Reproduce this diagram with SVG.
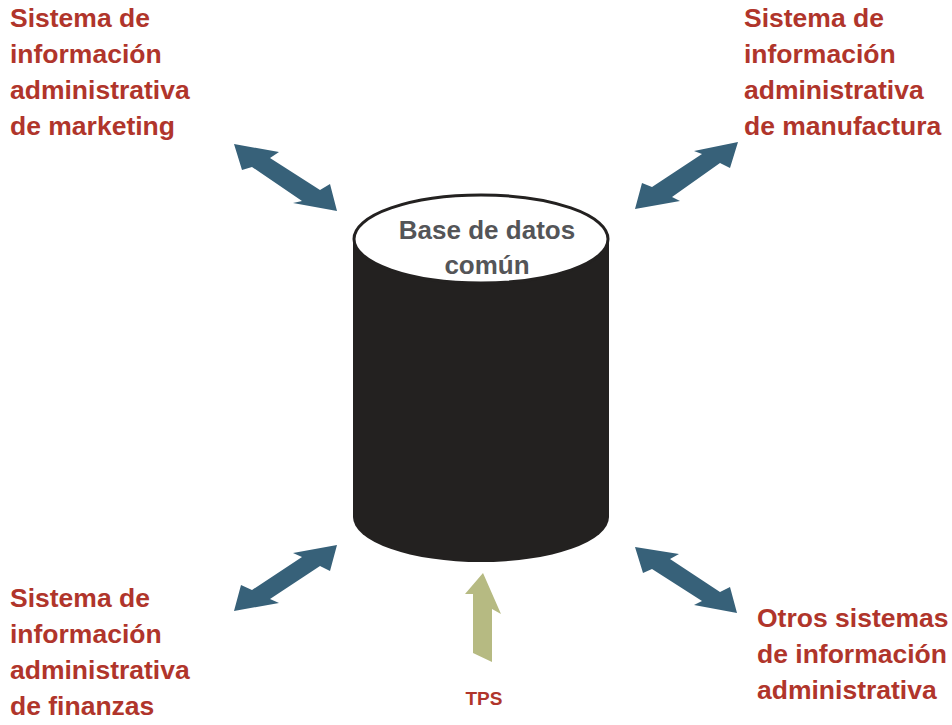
<svg xmlns="http://www.w3.org/2000/svg" width="952" height="725" viewBox="0 0 952 725">
<style>
.lbl{font-family:"Liberation Sans",Arial,sans-serif;font-weight:bold;font-size:26.5px;fill:#b0352b}
.db{font-family:"Liberation Sans",Arial,sans-serif;font-weight:bold;font-size:26px;fill:#545558;text-anchor:middle}
.arr{fill:#376179}
</style>
<rect width="952" height="725" fill="#ffffff"/>
<g id="database">
<path d="M353,239 L353,517 A128,45 0 0 0 609,517 L609,239 Z" fill="#232120"/>
<ellipse cx="481" cy="239" rx="127" ry="44" fill="#ffffff" stroke="#232120" stroke-width="3"/>
<text class="db" x="487" y="239">Base de datos</text>
<text class="db" x="487" y="274">común</text>
</g>
<g id="marketing">
<text class="lbl" x="10" y="27">Sistema de</text>
<text class="lbl" x="10" y="63">información</text>
<text class="lbl" x="10" y="99">administrativa</text>
<text class="lbl" x="10" y="135">de marketing</text>
</g>
<g id="manufactura">
<text class="lbl" x="744" y="27">Sistema de</text>
<text class="lbl" x="744" y="63">información</text>
<text class="lbl" x="744" y="99">administrativa</text>
<text class="lbl" x="744" y="135">de manufactura</text>
</g>
<g id="finanzas">
<text class="lbl" x="10" y="607">Sistema de</text>
<text class="lbl" x="10" y="643">información</text>
<text class="lbl" x="10" y="679">administrativa</text>
<text class="lbl" x="10" y="715">de finanzas</text>
</g>
<g id="otros">
<text class="lbl" x="757" y="627">Otros sistemas</text>
<text class="lbl" x="757" y="663">de información</text>
<text class="lbl" x="757" y="699">administrativa</text>
</g>
<g id="tps">
<text class="lbl" x="484" y="705" style="font-size:19px;text-anchor:middle">TPS</text>
</g>
<g id="connectors">
<polygon class="arr" points="234,144 279,152 270,158 320,190 330,184 337,211 293,203 302,201 252,167 242,170"/>
<polygon class="arr" points="738,142 730,168 720,163 672,197 680,201 635,209 642,183 652,187 702,154 694,151"/>
<polygon class="arr" points="337,545 330,571 320,566 270,599 279,603 234,611 241,585 252,590 302,557 293,553"/>
<polygon class="arr" points="635,547 679,554 670,559 720,592 730,587 737,613 694,605 702,601 652,569 643,573"/>
<polygon fill="#b6ba82" points="483,573 501,614 492,609 492,662 473,653 473,594 465,594"/>
</g>
</svg>
